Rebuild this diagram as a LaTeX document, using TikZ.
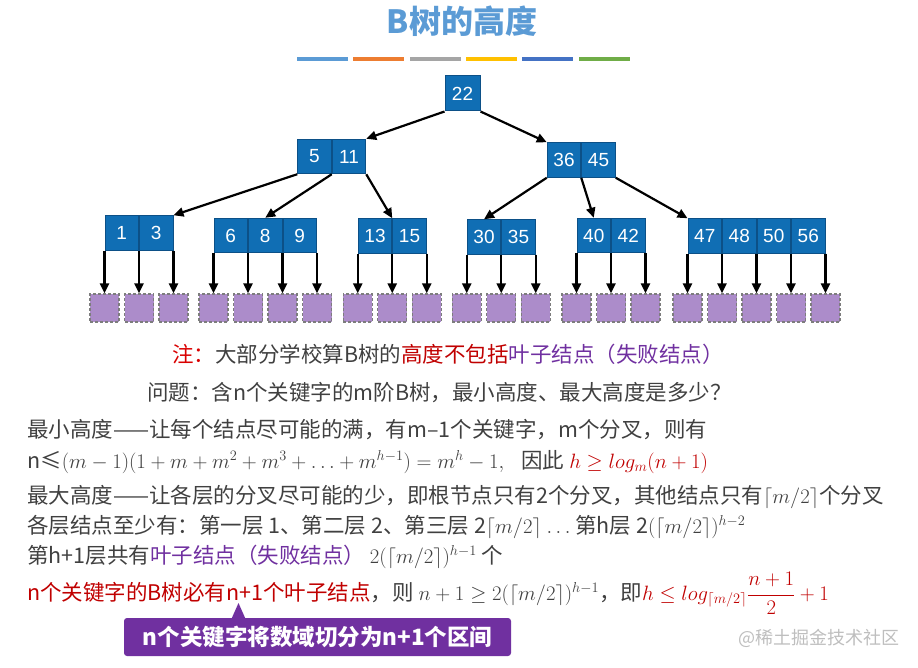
\documentclass[tikz,border=0pt]{standalone}
\usepackage[no-math]{fontspec}
\setmainfont{Noto Sans CJK SC}
\newfontfamily\keyfont{Liberation Sans}
\usetikzlibrary{positioning,arrows.meta,calc}
\definecolor{keyblue}{RGB}{16,110,180}
\definecolor{keyline}{RGB}{12,80,135}
\definecolor{leafpurple}{RGB}{172,140,202}
\definecolor{leafline}{RGB}{125,125,125}
\definecolor{titleblue}{RGB}{91,155,213}
\definecolor{txtgray}{RGB}{64,64,64}
\definecolor{notered}{RGB}{192,0,0}
\definecolor{notepurple}{RGB}{112,48,160}
\definecolor{markgray}{RGB}{190,190,190}
\definecolor{barA}{RGB}{91,155,213}
\definecolor{barB}{RGB}{237,125,49}
\definecolor{barC}{RGB}{165,165,165}
\definecolor{barD}{RGB}{255,192,0}
\definecolor{barE}{RGB}{68,114,196}
\definecolor{barF}{RGB}{112,173,71}
\tikzset{
  key/.style={draw=keyline,line width=1pt,fill=keyblue,text=white,inner sep=0pt,
    minimum width=33.5,minimum height=34.5,font=\keyfont\fontsize{19}{21}\selectfont},
  leaf/.style={draw=leafline,densely dashed,line width=1.3pt,fill=leafpurple,
    minimum width=29,minimum height=28,inner sep=0pt},
  ptr/.style={line width=2.2pt,-{Triangle[length=10pt,width=9pt]}},
  line/.style={anchor=base west,inner sep=0pt,text=txtgray,font=\fontsize{21.5}{24}\selectfont},
}
\begin{document}
\begin{tikzpicture}[x=1pt,y=-1pt]
  \useasboundingbox (0,0) rectangle (918,668);
  \node[anchor=base,text=titleblue,font=\bfseries\fontsize{32}{36}\selectfont] (head) at (462,34) {B树的高度};
  \foreach \c [count=\i] in {barA,barB,barC,barD,barE,barF}
    \fill[\c] ({297+56.3*(\i-1)},57) rectangle +(51,4.5);
  % tree
  \node[key,minimum width=35,minimum height=35] (k22) at (462.5,93.5) {22};
  \node[key] (k5) at (314.5,156.5) {5};
  \node[key,right=0pt of k5] (k11) {11};
  \node[key] (k36) at (564,160) {36};
  \node[key,right=0pt of k36] (k45) {45};
  \node[key] (k1) at (121.75,233) {1};
  \node[key,right=0pt of k1] (k3) {3};
  \node[key] (k6) at (230.75,235.5) {6};
  \node[key,right=0pt of k6] (k8) {8};
  \node[key,right=0pt of k8] (k9) {9};
  \node[key] (k13) at (375,236) {13};
  \node[key,right=0pt of k13] (k15) {15};
  \node[key] (k30) at (484,237) {30};
  \node[key,right=0pt of k30] (k35) {35};
  \node[key] (k40) at (593.75,235.5) {40};
  \node[key,right=0pt of k40] (k42) {42};
  \node[key] (k47) at (704.75,236) {47};
  \node[key,right=0pt of k47] (k48) {48};
  \node[key,right=0pt of k48] (k50) {50};
  \node[key,right=0pt of k50] (k56) {56};
  \draw[ptr] (k22.south west) -- (k11.north east);
  \draw[ptr] (k22.south east) -- (k36.north west);
  \draw[ptr] (k5.south west) -- (k3.north east);
  \draw[ptr] (k5.south east) -- (k8.north);
  \draw[ptr] (k11.south east) -- (k13.north east);
  \draw[ptr] (k36.south west) -- (k30.north);
  \draw[ptr] (k36.south east) -- (k40.north);
  \draw[ptr] (k45.south east) -- (k47.north west);
  % leaves
  \coordinate (leafrow) at (0,308);
  \foreach \k/\a [count=\i] in {1/south west,1/south east,3/south east,
      6/south west,6/south east,8/south east,9/south east,
      13/south west,13/south east,15/south east,
      30/south west,30/south east,35/south east,
      40/south west,40/south east,42/south east,
      47/south west,47/south east,48/south east,50/south east,56/south east}{
    \node[leaf] (leaf\i) at (k\k.\a |- leafrow) {};
    \draw[ptr] (k\k.\a) -- (leaf\i);
  }
  % text
  \node[line] (note) at (172,362) {\textcolor{red!85!black}{注：}大部分学校算B树的\textcolor{notered}{高度不包括}\textcolor{notepurple}{叶子结点（失败结点）}};
  \node[line] (ask) at (147,400) {问题：含n个关键字的m阶B树，最小高度、最大高度是多少？};
  \node[line] (min1) at (27,437) {最小高度——让每个结点尽可能的满，有m–1个关键字，m个分叉，则有};
  \node[line] (min2) at (27,468) {n≤$(m-1)(1+m+m^2+m^3+\ldots+m^{h-1})=m^h-1,$\hspace{0.8em}因此 \textcolor{notered}{$h\geq log_m(n+1)$}};
  \node[line] (max1) at (27,503) {最大高度——让各层的分叉尽可能的少，即根节点只有2个分叉，其他结点只有$\lceil m/2\rceil$个分叉};
  \node[line] (max2) at (27,533) {各层结点至少有：第一层 1、第二层 2、第三层 2$\lceil m/2\rceil$ $\ldots$ 第h层 2$(\lceil m/2\rceil)^{h-2}$};
  \node[line] (max3) at (27,563) {第h+1层共有\textcolor{notepurple}{叶子结点（失败结点）} $2(\lceil m/2\rceil)^{h-1}$ 个};
  \node[line] (max4) at (27,600) {\textcolor{notered}{n个关键字的B树必有n+1个叶子结点}，则 $n+1\geq2(\lceil m/2\rceil)^{h-1}$，即\textcolor{notered}{$h\leq log_{\lceil m/2\rceil}\displaystyle\frac{n+1}{2}+1$}};
  % callout
  \coordinate (ptrtip) at (238.5,603);
  \node[fill=notepurple,rounded corners=3pt,minimum width=387,minimum height=38,inner sep=0pt,
    text=white,font=\bfseries\fontsize{22.5}{25}\selectfont] (tip) at (317.5,637) {n个关键字将数域切分为n+1个区间};
  \fill[notepurple] ($(ptrtip |- tip.north)+(-7,1)$) -- (ptrtip) -- ($(ptrtip |- tip.north)+(7,1)$) -- cycle;
  \node[anchor=base west,inner sep=0pt,text=markgray,font=\fontsize{18}{20}\selectfont] (mark) at (738,644) {@稀土掘金技术社区};
\end{tikzpicture}
\end{document}
